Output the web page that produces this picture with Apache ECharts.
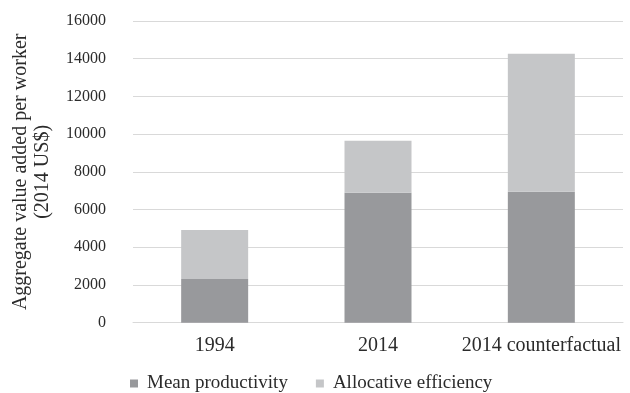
<!DOCTYPE html>
<html>
<head>
<meta charset="utf-8">
<script src="https://cdn.jsdelivr.net/npm/echarts@6/dist/echarts.min.js"></script>
<style>html,body{margin:0;padding:0;background:#fff}#c{width:630px;height:393px}</style>
</head>
<body>
<div id="c"></div>
<script>
var categories = ['1994', '2014', '2014 counterfactual'];
var meanProductivity = [2320, 6890, 6940];
var allocativeEfficiency = [2600, 2760, 7320];
var yTicks = { min: 0, max: 16000, interval: 2000 };
var seriesNames = ['Mean productivity', 'Allocative efficiency'];
var yTitle = 'Aggregate value added per worker\n(2014 US$)';

var FONT = '"Liberation Serif", "DejaVu Serif", serif';
var TXT = '#2b2b2b';
var chart = echarts.init(document.getElementById('c'), null, { renderer: 'canvas' });
chart.setOption({
  animation: false,
  backgroundColor: '#ffffff',
  grid: { left: 133, right: 7, top: 21, bottom: 70.3, containLabel: false, outerBoundsMode: 'none' },
  legend: {
    data: seriesNames,
    left: 125,
    top: 369,
    icon: 'rect',
    itemWidth: 8,
    itemHeight: 8,
    itemGap: 28,
    textStyle: { fontFamily: FONT, fontSize: 19, color: TXT, padding: [0, 0, 0, 4] }
  },
  xAxis: {
    type: 'category',
    data: categories,
    axisLine: { lineStyle: { color: '#d9d9d9', width: 1 } },
    axisTick: { show: false },
    axisLabel: { fontFamily: FONT, fontSize: 20, color: TXT, margin: 13, interval: 0, hideOverlap: false }
  },
  yAxis: {
    type: 'value',
    min: yTicks.min,
    max: yTicks.max,
    interval: yTicks.interval,
    name: yTitle,
    nameLocation: 'middle',
    nameGap: 79,
    nameTextStyle: { fontFamily: FONT, fontSize: 20, color: TXT, lineHeight: 22, align: 'center' },
    axisLine: { show: false },
    axisTick: { show: false },
    splitLine: { lineStyle: { color: '#d9d9d9', width: 1 } },
    axisLabel: { fontFamily: FONT, fontSize: 16, color: TXT, margin: 27, formatter: function (v) { return String(v); } }
  },
  series: [
    {
      name: seriesNames[0],
      type: 'bar',
      stack: 'total',
      barWidth: 67,
      data: meanProductivity,
      itemStyle: { color: '#98999c' }
    },
    {
      name: seriesNames[1],
      type: 'bar',
      stack: 'total',
      barWidth: 67,
      data: allocativeEfficiency,
      itemStyle: { color: '#c5c6c8' }
    }
  ]
});
</script>
</body>
</html>
